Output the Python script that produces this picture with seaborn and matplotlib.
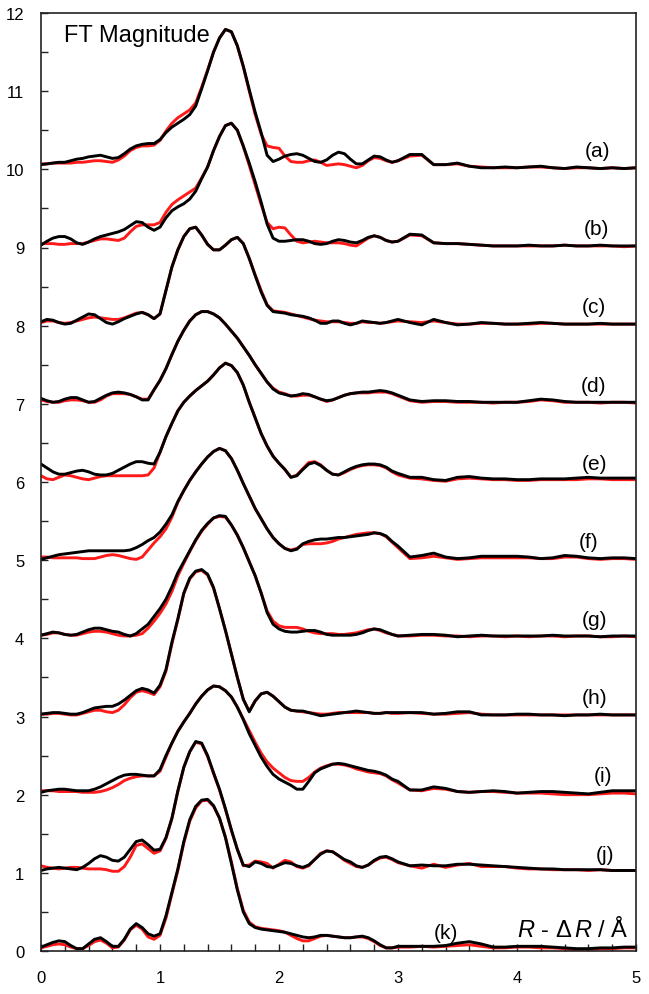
import numpy as np
import matplotlib
matplotlib.use("Agg")
import matplotlib.pyplot as plt
from matplotlib.ticker import MultipleLocator
import seaborn as sns

# R grid (Angstrom): 0.05 steps up to 3.0, then 0.1 steps to 5.0
R = np.round(np.r_[np.arange(0, 3.001, 0.05), np.arange(3.1, 5.001, 0.1)], 2)

labels = ["(a)", "(b)", "(c)", "(d)", "(e)", "(f)", "(g)", "(h)", "(i)", "(j)", "(k)"]
offsets = [10, 9, 8, 7, 6, 5, 4, 3, 2, 1, 0]

a_black = [.06, .07, .08, .09, .09, .11, .13, .14, .16, .17,
           .18, .16, .14, .15, .20, .26, .30, .32, .33, .33,
           .38, .47, .54, .59, .64, .70, .81, 1.03, 1.26, 1.50,
           1.68, 1.79, 1.76, 1.58, 1.32, 1.02, .73, .47, .18, .10,
           .13, .17, .19, .20, .18, .14, .10, .09, .12, .18,
           .22, .20, .13, .07, .07, .12, .17, .16, .12, .09,
           .11, .19, .19, .06, .06, .08, .04, .02, .02, .03,
           .02, .03, .04, .02, .01, .03, .02, .01, .02, .01, .02]
a_red = [.07, .07, .08, .08, .08, .08, .09, .09, .10, .11,
         .11, .10, .09, .12, .17, .24, .28, .30, .30, .31,
         .37, .49, .59, .66, .71, .76, .85, 1.05, 1.27, 1.50,
         1.68, 1.79, 1.76, 1.58, 1.31, 1.00, .70, .45, .30, .28,
         .27, .17, .10, .09, .09, .11, .12, .09, .05, .06,
         .07, .06, .04, .02, .05, .11, .15, .14, .11, .09,
         .11, .17, .18, .06, .06, .07, .04, .03, .02, .02,
         .02, .03, .03, .02, .01, .02, .02, .01, .02, .01, .02]

b_black = [.03, .08, .12, .14, .14, .11, .06, .04, .07, .11,
           .14, .16, .18, .20, .23, .28, .33, .32, .26, .22,
           .26, .38, .47, .52, .56, .62, .72, .88, 1.03, 1.24,
           1.42, 1.56, 1.59, 1.50, 1.30, 1.08, .84, .58, .30, .12,
           .08, .08, .09, .10, .10, .08, .05, .04, .05, .08,
           .10, .09, .07, .06, .09, .13, .15, .13, .09, .07,
           .08, .17, .16, .06, .05, .05, .04, .03, .02, .02,
           .02, .03, .02, .02, .03, .02, .02, .03, .02, .02, .02]
b_red = [.05, .05, .05, .04, .04, .05, .05, .05, .07, .09,
         .11, .11, .10, .09, .12, .20, .27, .29, .29, .29,
         .32, .45, .55, .61, .66, .71, .76, .89, 1.03, 1.24,
         1.42, 1.56, 1.59, 1.50, 1.29, 1.05, .80, .55, .32, .24,
         .26, .25, .16, .08, .06, .07, .08, .07, .06, .06,
         .06, .05, .03, .02, .07, .12, .15, .13, .09, .07,
         .08, .16, .15, .06, .05, .05, .04, .03, .02, .02,
         .02, .02, .02, .02, .03, .02, .02, .02, .02, .01, .02]

c_black = [.05, .08, .07, .04, .02, .03, .07, .11, .15, .14,
           .09, .04, .02, .05, .09, .12, .15, .17, .14, .09,
           .15, .45, .75, .97, 1.14, 1.24, 1.26, 1.16, 1.04, .97,
           .97, 1.03, 1.10, 1.13, 1.05, .86, .64, .43, .26, .18,
           .17, .16, .14, .13, .12, .10, .07, .03, .03, .06,
           .06, .03, .01, .03, .06, .05, .04, .03, .04, .06,
           .08, .04, .01, .08, .04, .01, .02, .04, .03, .02,
           .02, .03, .04, .03, .02, .02, .02, .03, .02, .02, .02]
c_red = [.04, .06, .06, .04, .03, .04, .06, .08, .10, .11,
         .10, .09, .08, .08, .10, .13, .16, .17, .14, .09,
         .15, .45, .75, .97, 1.14, 1.24, 1.26, 1.16, 1.04, .97,
         .97, 1.03, 1.10, 1.13, 1.05, .86, .65, .45, .27, .19,
         .18, .17, .15, .13, .11, .09, .07, .06, .05, .05,
         .05, .04, .03, .03, .05, .04, .04, .03, .04, .05,
         .06, .05, .04, .06, .04, .02, .02, .03, .03, .02,
         .02, .02, .03, .03, .02, .02, .02, .02, .02, .02, .02]

d_black = [.07, .04, .02, .03, .06, .08, .08, .05, .02, .03,
           .07, .11, .14, .15, .14, .12, .09, .05, .05, .18,
           .30, .45, .63, .80, .94, 1.06, 1.14, 1.18, 1.18, 1.15,
           1.10, 1.02, .93, .84, .73, .62, .50, .39, .28, .19,
           .14, .12, .10, .11, .13, .12, .09, .06, .04, .05,
           .08, .11, .13, .14, .15, .15, .16, .17, .16, .14,
           .11, .05, .03, .04, .04, .03, .03, .02, .02, .02,
           .02, .04, .06, .05, .03, .02, .02, .02, .02, .02, .02]
d_red = [.05, .03, .02, .02, .04, .05, .05, .04, .02, .02,
         .05, .10, .13, .13, .13, .12, .09, .06, .06, .18,
         .30, .45, .63, .80, .94, 1.06, 1.14, 1.18, 1.18, 1.15,
         1.10, 1.02, .93, .84, .73, .62, .50, .39, .28, .20,
         .15, .13, .10, .10, .11, .11, .09, .06, .03, .05,
         .08, .11, .13, .14, .14, .14, .15, .15, .15, .13,
         .10, .04, .02, .03, .03, .02, .02, .02, .01, .02,
         .02, .03, .05, .04, .02, .02, .02, .01, .02, .02, .01]

e_black = [.23, .18, .13, .10, .10, .12, .14, .15, .13, .10,
           .09, .09, .11, .15, .19, .23, .26, .26, .24, .23,
           .38, .58, .75, .91, 1.02, 1.10, 1.17, 1.23, 1.29, 1.37,
           1.46, 1.52, 1.49, 1.40, 1.24, 1.02, .82, .62, .46, .33,
           .24, .16, .06, .08, .16, .23, .25, .21, .15, .10,
           .09, .13, .17, .20, .22, .23, .23, .22, .19, .14,
           .11, .06, .06, .03, .02, .06, .07, .05, .04, .04,
           .03, .03, .04, .04, .04, .05, .06, .05, .05, .05, .05]
e_red = [.08, .04, .03, .06, .09, .08, .06, .04, .03, .05,
         .07, .08, .08, .08, .08, .08, .08, .08, .09, .18,
         .38, .58, .75, .91, 1.02, 1.10, 1.17, 1.23, 1.29, 1.37,
         1.46, 1.52, 1.49, 1.40, 1.24, 1.02, .82, .62, .46, .33,
         .24, .16, .06, .09, .17, .25, .26, .22, .15, .10,
         .09, .12, .16, .19, .21, .22, .22, .21, .18, .13,
         .09, .05, .04, .02, .01, .04, .05, .04, .03, .03,
         .02, .02, .03, .03, .03, .03, .04, .04, .03, .03, .03]

f_black = [.01, .03, .05, .07, .08, .09, .10, .11, .12, .12,
           .12, .12, .12, .12, .12, .13, .16, .20, .25, .29,
           .36, .46, .58, .75, .89, 1.02, 1.13, 1.23, 1.32, 1.39,
           1.43, 1.40, 1.30, 1.15, .98, .82, .66, .53, .40, .29,
           .21, .15, .12, .14, .21, .24, .26, .27, .27, .28,
           .29, .29, .30, .31, .32, .33, .35, .34, .31, .24,
           .18, .04, .06, .09, .04, .02, .03, .05, .05, .05,
           .05, .04, .02, .03, .06, .05, .03, .02, .03, .03, .02]
f_red = [.04, .04, .03, .03, .03, .03, .03, .02, .02, .02,
         .04, .06, .07, .06, .04, .02, .01, .04, .13, .22,
         .30, .40, .55, .74, .89, 1.02, 1.13, 1.23, 1.32, 1.39,
         1.43, 1.40, 1.30, 1.15, .98, .82, .66, .53, .40, .29,
         .21, .15, .13, .15, .20, .21, .21, .21, .22, .24,
         .27, .29, .31, .33, .34, .35, .35, .34, .30, .23,
         .16, .02, .03, .05, .03, .01, .02, .03, .03, .03,
         .03, .03, .02, .02, .04, .04, .02, .01, .02, .02, .01]

g_black = [.04, .06, .08, .07, .05, .04, .05, .08, .11, .13,
           .13, .11, .09, .08, .05, .03, .06, .12, .18, .28,
           .38, .50, .66, .84, .98, 1.12, 1.26, 1.38, 1.47, 1.54,
           1.57, 1.56, 1.45, 1.32, 1.16, .98, .80, .58, .33, .18,
           .12, .09, .08, .08, .09, .10, .10, .08, .05, .04,
           .04, .04, .04, .05, .07, .10, .12, .11, .08, .05,
           .03, .04, .05, .05, .04, .02, .03, .04, .03, .03,
           .03, .03, .03, .04, .03, .03, .03, .02, .03, .03, .03]
g_red = [.04, .05, .07, .07, .05, .04, .04, .06, .08, .09,
         .09, .08, .06, .04, .03, .03, .04, .06, .13, .22,
         .32, .44, .60, .80, .96, 1.11, 1.25, 1.37, 1.46, 1.54,
         1.56, 1.55, 1.45, 1.32, 1.16, .98, .80, .58, .35, .22,
         .16, .14, .14, .14, .12, .09, .07, .06, .06, .06,
         .05, .05, .06, .07, .09, .11, .12, .10, .07, .05,
         .03, .03, .04, .04, .03, .03, .02, .03, .03, .02,
         .03, .02, .03, .03, .02, .03, .03, .02, .02, .03, .02]

h_black = [.03, .04, .05, .05, .04, .03, .03, .05, .08, .11,
           .12, .13, .13, .16, .21, .27, .33, .36, .34, .30,
           .40, .60, .95, 1.25, 1.58, 1.77, 1.86, 1.88, 1.82, 1.65,
           1.38, 1.10, .80, .50, .22, .06, .20, .29, .31, .26,
           .19, .12, .08, .07, .07, .05, .03, .01, .02, .03,
           .04, .05, .06, .07, .06, .05, .04, .04, .05, .05,
           .05, .05, .05, .03, .04, .06, .06, .02, .02, .02,
           .03, .03, .02, .02, .01, .02, .02, .03, .02, .02, .02]
h_red = [.03, .03, .04, .04, .03, .02, .02, .04, .06, .08,
         .08, .06, .05, .08, .15, .24, .31, .33, .31, .28,
         .38, .58, .93, 1.24, 1.57, 1.76, 1.85, 1.87, 1.81, 1.64,
         1.38, 1.10, .80, .50, .22, .07, .20, .29, .31, .26,
         .19, .12, .08, .07, .06, .05, .04, .03, .03, .04,
         .05, .05, .05, .05, .05, .05, .04, .04, .05, .04,
         .04, .05, .04, .03, .03, .04, .05, .03, .02, .02,
         .02, .02, .02, .02, .02, .02, .02, .02, .02, .02, .02]

i_black = [.03, .05, .06, .07, .07, .06, .05, .05, .05, .07,
           .10, .14, .18, .22, .25, .26, .26, .25, .24, .24,
           .32, .50, .66, .81, .93, 1.04, 1.16, 1.26, 1.34, 1.39,
           1.38, 1.33, 1.25, 1.12, .96, .78, .63, .48, .36, .26,
           .20, .16, .12, .07, .07, .17, .28, .33, .36, .39,
           .40, .39, .37, .35, .33, .31, .30, .28, .25, .20,
           .17, .06, .06, .10, .08, .04, .03, .04, .05, .04,
           .02, .03, .04, .04, .03, .02, .01, .03, .05, .05, .05]
i_red = [.05, .05, .05, .04, .04, .04, .04, .03, .03, .03,
         .04, .06, .09, .13, .18, .21, .23, .24, .24, .24,
         .30, .48, .66, .81, .93, 1.04, 1.16, 1.26, 1.34, 1.39,
         1.38, 1.33, 1.25, 1.12, .97, .82, .67, .53, .42, .34,
         .28, .22, .18, .17, .17, .22, .29, .34, .37, .39,
         .39, .38, .36, .33, .31, .29, .28, .27, .24, .19,
         .15, .06, .05, .08, .07, .04, .03, .04, .04, .03,
         .02, .02, .02, .01, .00, .00, .00, .01, .02, .02, .01]

j_black = [.03, .05, .06, .07, .06, .05, .04, .07, .12, .18,
           .22, .20, .16, .15, .20, .30, .40, .42, .36, .29,
           .30, .45, .70, 1.05, 1.35, 1.55, 1.68, 1.66, 1.50, 1.28,
           1.07, .82, .55, .30, .10, .08, .14, .12, .08, .07,
           .10, .13, .12, .09, .07, .10, .17, .24, .28, .27,
           .22, .17, .14, .09, .07, .10, .16, .20, .21, .18,
           .14, .09, .10, .09, .09, .11, .11, .10, .09, .08,
           .07, .06, .05, .05, .04, .04, .04, .04, .03, .03, .03]
j_red = [.09, .07, .06, .05, .06, .07, .07, .06, .05, .05,
         .05, .04, .02, .02, .08, .20, .35, .37, .31, .25,
         .28, .44, .69, 1.04, 1.35, 1.55, 1.67, 1.65, 1.49, 1.27,
         1.06, .81, .54, .30, .09, .10, .15, .14, .12, .06,
         .11, .16, .14, .08, .06, .09, .17, .25, .28, .27,
         .22, .16, .12, .08, .07, .10, .15, .19, .20, .17,
         .13, .09, .06, .11, .07, .10, .12, .08, .08, .08,
         .06, .05, .05, .04, .04, .04, .03, .04, .03, .03, .03]

k_black = [.05, .08, .11, .13, .12, .07, .03, .03, .09, .15,
           .17, .12, .06, .06, .15, .28, .35, .30, .22, .19,
           .22, .45, .75, 1.05, 1.40, 1.68, 1.85, 1.93, 1.94, 1.86,
           1.70, 1.45, 1.12, .78, .50, .35, .30, .28, .27, .26,
           .25, .24, .22, .20, .18, .17, .18, .20, .20, .19,
           .18, .17, .17, .18, .19, .17, .13, .08, .04, .04,
           .06, .06, .06, .06, .07, .10, .12, .09, .05, .05,
           .06, .06, .06, .05, .04, .03, .03, .04, .04, .05, .05]
k_red = [.04, .06, .08, .09, .08, .05, .03, .03, .07, .12,
         .14, .10, .04, .05, .14, .27, .33, .28, .18, .15,
         .20, .42, .73, 1.03, 1.38, 1.66, 1.83, 1.92, 1.93, 1.85,
         1.70, 1.46, 1.14, .80, .52, .37, .31, .29, .28, .27,
         .26, .24, .20, .16, .13, .13, .16, .19, .20, .19,
         .18, .17, .17, .18, .18, .16, .12, .07, .04, .04,
         .05, .05, .06, .05, .06, .07, .08, .06, .04, .04,
         .05, .05, .04, .04, .03, .01, .02, .03, .03, .04, .04]

black_curves = [a_black, b_black, c_black, d_black, e_black, f_black,
                g_black, h_black, i_black, j_black, k_black]
red_curves = [a_red, b_red, c_red, d_red, e_red, f_red,
              g_red, h_red, i_red, j_red, k_red]

# where the (a)..(k) tags sit
label_x = [4.68, 4.67, 4.65, 4.64, 4.65, 4.60, 4.65, 4.65, 4.72, 4.74, 3.40]
label_dy = 0.24

sns.set_style("ticks")
plt.rcParams["font.family"] = ["Liberation Sans", "DejaVu Sans"]
plt.rcParams["text.color"] = "black"
plt.rcParams["mathtext.fontset"] = "custom"
plt.rcParams["mathtext.rm"] = "Liberation Sans"
plt.rcParams["mathtext.it"] = "Liberation Sans:italic"

fig = plt.figure(figsize=(6.49, 9.95), dpi=100)
ax = fig.add_axes([41 / 649, 43 / 995, 595 / 649, 938 / 995])

line_kw = dict(lw=2.1, estimator=None, sort=False, ax=ax,
               solid_joinstyle="round", solid_capstyle="round")
for off, red, black in zip(offsets, red_curves, black_curves):
    sns.lineplot(x=R, y=np.array(red) + off, color="#ff1a1a", **line_kw)
    sns.lineplot(x=R, y=np.array(black) + off, color="black", **line_kw)

for lab, off, lx in zip(labels, offsets, label_x):
    ax.text(lx, off + label_dy, lab, fontsize=15, ha="center", va="center")

ax.text(0.19, 11.72, "FT Magnitude", fontsize=17, va="center", ha="left")
ax.text(4.0, 0.19, r"$R$ - $\mathit{\Delta}\,R$ / Å", fontsize=17,
        ha="left", va="baseline")

ax.set_xlim(0, 5)
ax.set_ylim(0, 12)
ax.xaxis.set_major_locator(MultipleLocator(1))
ax.xaxis.set_minor_locator(MultipleLocator(0.2))
ax.yaxis.set_major_locator(MultipleLocator(1))
ax.yaxis.set_minor_locator(MultipleLocator(0.5))
ax.tick_params(which="both", direction="in", length=5, width=1.0,
               top=False, right=False, colors="#222222")
ax.tick_params(axis="x", which="major", labelsize=12, pad=14, labelcolor="black")
ax.tick_params(axis="y", which="major", labelsize=12, pad=12, labelcolor="black")
for sp in ax.spines.values():
    sp.set_visible(True)
    sp.set_linewidth(1.2)
    sp.set_color("#222222")
ax.set_xlabel("")
ax.set_ylabel("")

fig.savefig("out.png", dpi=100)
